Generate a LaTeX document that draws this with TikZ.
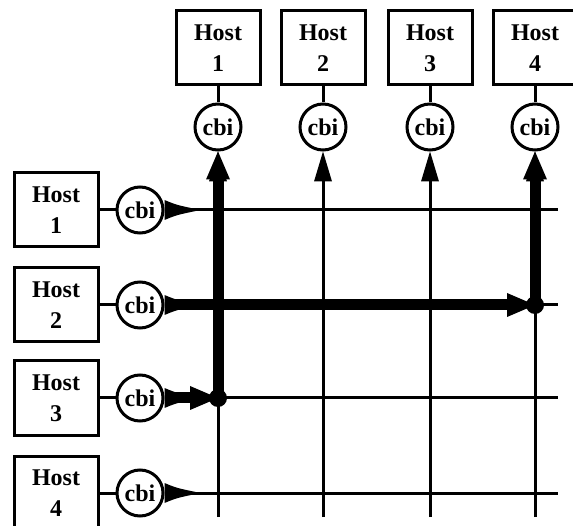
\documentclass[tikz,border=0pt]{standalone}
\usepackage{fontspec}
\setmainfont{Liberation Serif}
\usetikzlibrary{arrows.meta}
\tikzset{
  hostbox/.style={draw,line width=3pt,minimum width=84pt,minimum height=74pt,
    align=center,inner sep=0pt,font=\fontsize{24}{31}\selectfont\bfseries},
  cbinode/.style={draw,circle,fill=white,line width=3pt,minimum size=46pt,
    inner sep=0pt,font=\fontsize{24}{24}\selectfont\bfseries},
  wire/.style={line width=3pt},
  fatwire/.style={line width=11pt},
  tip/.style={-{Triangle[width=18pt,length=30pt,line width=0pt]}},
  fattip/.style={-{Triangle[width=24pt,length=28pt,line width=0pt]}},
}
\begin{document}
\begin{tikzpicture}[x=1pt,y=-1pt]
  \useasboundingbox (0,0) rectangle (573,526);
  % columns: hosts on top
  \foreach \i/\x in {1/218,2/323,3/430,4/535}{
    \node[hostbox] (th\i) at (\x,48) {Host\\\i};
    \node[cbinode] (tc\i) at (\x,127) {cbi};
    \coordinate (cb\i) at (\x,517);
    \draw[wire] (th\i) -- (tc\i);
  }
  % rows: hosts on the left
  \foreach \j/\y in {1/210,2/305,3/398,4/493}{
    \node[hostbox] (lh\j) at (56,\y) {Host\\\j};
    \node[cbinode] (lc\j) at (140,\y) {cbi};
    \coordinate (re\j) at (558,\y);
    \draw[wire] (lh\j) -- (lc\j);
    \draw[wire] (lc\j) -- (re\j);
    \fill ([yshift=10pt]lc\j.east) .. controls ([xshift=12pt,yshift=5pt]lc\j.east)
      .. ([xshift=36pt]lc\j.east) .. controls ([xshift=12pt,yshift=-5pt]lc\j.east)
      .. ([yshift=-10pt]lc\j.east) -- cycle;
  }
  \foreach \i in {1,...,4}
    \draw[wire,tip] (cb\i) -- (tc\i);
  % crossings in use
  \coordinate (x13) at (tc1 |- lc3);
  \coordinate (x42) at (tc4 |- lc2);
  \draw[fatwire,fattip] (x13) -- (tc1);
  \draw[fatwire,fattip] (x42) -- (tc4);
  \draw[fatwire,fattip] (lc2) -- (x42);
  \draw[fatwire,fattip] (lc3) -- (x13);
  \fill (x13) circle (9pt);
  \fill (x42) circle (9pt);
\end{tikzpicture}
\end{document}
